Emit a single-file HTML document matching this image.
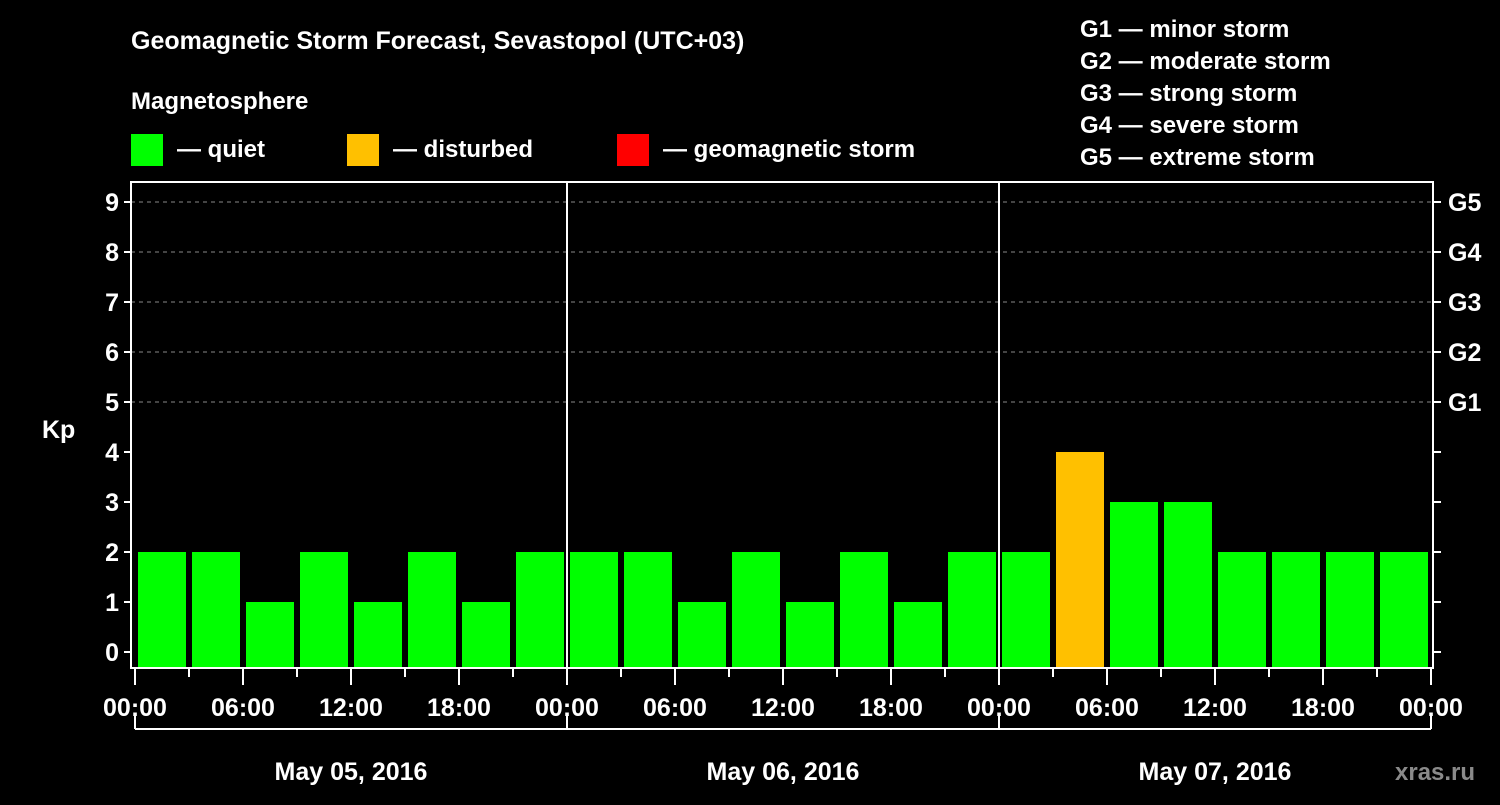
<!DOCTYPE html>
<html><head><meta charset="utf-8"><style>
body{margin:0;background:#000;width:1500px;height:800px;overflow:hidden}
svg text{font-family:"Liberation Sans",Arial,sans-serif;font-weight:bold;fill:#fff}
</style></head><body>
<svg id="c" width="1500" height="800" xmlns="http://www.w3.org/2000/svg">
<rect width="1500" height="800" fill="#000"/>
<text x="131" y="49" font-size="25">Geomagnetic Storm Forecast, Sevastopol (UTC+03)</text>
<text x="131" y="109" font-size="24">Magnetosphere</text>
<rect x="131" y="134" width="32" height="32" fill="#00ff00"/>
<text x="177" y="157" font-size="24">— quiet</text>
<rect x="347" y="134" width="32" height="32" fill="#ffc000"/>
<text x="393" y="157" font-size="24">— disturbed</text>
<rect x="617" y="134" width="32" height="32" fill="#ff0000"/>
<text x="663" y="157" font-size="24">— geomagnetic storm</text>
<g font-size="24">
<text x="1080" y="37">G1 — minor storm</text>
<text x="1080" y="69">G2 — moderate storm</text>
<text x="1080" y="101">G3 — strong storm</text>
<text x="1080" y="133">G4 — severe storm</text>
<text x="1080" y="165">G5 — extreme storm</text>
</g>
<text x="42" y="438" font-size="25">Kp</text>
<text x="1395" y="780" font-size="24" fill="#888" style="fill:#8a8a8a">xras.ru</text>
<g id="plot"></g>
</svg>
<script>
const kpValues=[2,2,1,2,1,2,1,2, 2,2,1,2,1,2,1,2, 2,4,3,3,2,2,2,2];
const yTicks=[0,1,2,3,4,5,6,7,8,9];
const gLabels=["G1","G2","G3","G4","G5"];
const gLevels=[5,6,7,8,9];
const xTickLabels=["00:00","06:00","12:00","18:00","00:00","06:00","12:00","18:00","00:00","06:00","12:00","18:00","00:00"];
const dayLabels=["May 05, 2016","May 06, 2016","May 07, 2016"];
const NS="http://www.w3.org/2000/svg";
const g=document.getElementById('plot');
const X0=135,HPX=18,L=131,R=1433,T=182,B=668;
const xH=h=>X0+h*HPX;
const yV=v=>652-50*v;
function el(t,a){const e=document.createElementNS(NS,t);for(const k in a)e.setAttribute(k,a[k]);g.appendChild(e);return e;}
// gridlines
gLevels.forEach(v=>{const e=el('line',{x1:L,x2:R,y1:yV(v),y2:yV(v),stroke:'#888','stroke-dasharray':'4,4','stroke-width':1});

});
// bars
kpValues.forEach((v,i)=>{const c=v>=5?'#ff0000':(v>=4?'#ffc000':'#00ff00');
const e=el('rect',{x:xH(i*3)+3,y:yV(v),width:48,height:B-1-yV(v),fill:c});

});
// day separators
[1,2].forEach(d=>{const e=el('line',{x1:xH(d*24),x2:xH(d*24),y1:T,y2:B,stroke:'#fff','stroke-width':2});

});
// frame
const fr=el('rect',{x:L,y:T,width:R-L,height:B-T,fill:'none',stroke:'#fff','stroke-width':2});


// y ticks
yTicks.forEach(v=>{el('line',{x1:L-7,x2:L,y1:yV(v),y2:yV(v),stroke:'#fff','stroke-width':2});
el('line',{x1:R,x2:R+8,y1:yV(v),y2:yV(v),stroke:'#fff','stroke-width':2});
const t=el('text',{x:L-12,y:yV(v)+9,'font-size':25,'text-anchor':'end'});t.textContent=v;

});
gLabels.forEach((s,i)=>{const t=el('text',{x:1448,y:yV(gLevels[i])+9,'font-size':25});t.textContent=s;

});
// x ticks
for(let h=0;h<=72;h+=3){const major=h%6===0;el('line',{x1:xH(h),x2:xH(h),y1:B,y2:major?685:677,stroke:'#fff','stroke-width':2});}
xTickLabels.forEach((s,i)=>{const t=el('text',{x:xH(i*6),y:716,'font-size':25,'text-anchor':'middle'});t.textContent=s;

});
// day bracket
el('line',{x1:xH(0),x2:xH(72),y1:729,y2:729,stroke:'#fff','stroke-width':2});
[0,24,48,72].forEach(h=>el('line',{x1:xH(h),x2:xH(h),y1:713,y2:729,stroke:'#fff','stroke-width':2}));
dayLabels.forEach((s,i)=>{const t=el('text',{x:xH(i*24+12),y:780,'font-size':25,'text-anchor':'middle'});t.textContent=s;

});
</script>
</body></html>
